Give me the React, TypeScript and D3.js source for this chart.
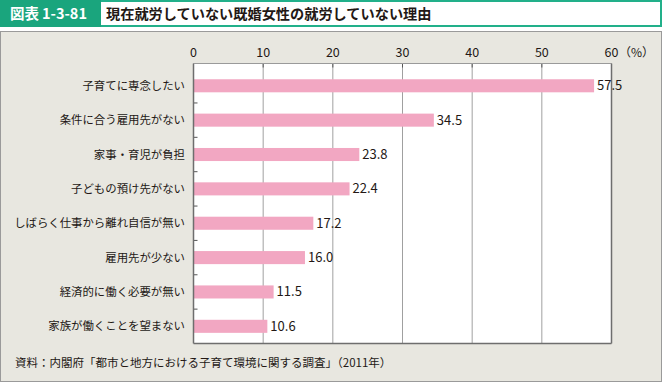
import React from "react";
import * as d3 from "d3";

const categories = [
  "子育てに専念したい",
  "条件に合う雇用先がない",
  "家事・育児が負担",
  "子どもの預け先がない",
  "しばらく仕事から離れ自信が無い",
  "雇用先が少ない",
  "経済的に働く必要が無い",
  "家族が働くことを望まない",
];
const values = [57.5, 34.5, 23.8, 22.4, 17.2, 16.0, 11.5, 10.6];
const xTicks = [0, 10, 20, 30, 40, 50, 60];

const W = 662;
const H = 383;
const FONT = "'Noto Sans CJK JP', 'Noto Sans', sans-serif";

export default function App() {
  const plotLeft = 193.5;
  const plotRight = 611.5;
  const plotTop = 63.5;
  const plotBottom = 343.5;
  const bandTop = 68.6;

  const x = d3.scaleLinear().domain([0, 60]).range([plotLeft, plotRight]);
  const y = d3
    .scaleBand<string>()
    .domain(categories)
    .range([bandTop, plotBottom])
    .paddingInner(0.62)
    .paddingOuter(0.31);

  const step = y.step();

  return (
    <svg
      width={W}
      height={H}
      style={{ position: "absolute", left: 0, top: 0, display: "block" }}
      fontFamily={FONT}
    >
      {/* title bar */}
      <rect x={1} y={1} width={660} height={25} fill="#ffffff" stroke="#22b08a" strokeWidth={2} />
      <rect x={0} y={0} width={101} height={27} fill="#1aa57d" />
      <text x={10} y={19} fill="#ffffff" fontSize={14.5} fontWeight="bold">
        図表<tspan dx={3}>1-3-81</tspan>
      </text>
      <text x={106} y={19} fill="#231815" fontSize={14.2} fontWeight="bold">
        現在就労していない既婚女性の就労していない理由
      </text>

      {/* panel */}
      <rect x={0.5} y={31.5} width={661} height={350} fill="#e8e7e0" stroke="#9a9a9a" strokeWidth={1} />

      {/* plot area */}
      <rect x={plotLeft} y={plotTop} width={plotRight - plotLeft} height={plotBottom - plotTop} fill="#ffffff" />

      {/* gridlines */}
      {xTicks.slice(1, -1).map((t) => (
        <line key={"g" + t} x1={x(t)} x2={x(t)} y1={plotTop} y2={plotBottom} stroke="#a0a0a0" strokeWidth={1} />
      ))}
      {/* top ticks */}
      {xTicks.map((t) => (
        <line key={"tt" + t} x1={x(t)} x2={x(t)} y1={plotTop} y2={plotTop + 4} stroke="#555" strokeWidth={1} />
      ))}

      {/* bars */}
      {categories.map((c, i) => (
        <rect
          key={c}
          x={x(0)}
          y={y(c)!}
          width={x(values[i]) - x(0)}
          height={y.bandwidth()}
          fill="#f2a7c2"
        />
      ))}

      {/* left ticks between categories */}
      {categories.slice(1).map((c) => (
        <line
          key={"lt" + c}
          x1={plotLeft}
          x2={plotLeft + 4}
          y1={y(c)! - (step - y.bandwidth()) / 2}
          y2={y(c)! - (step - y.bandwidth()) / 2}
          stroke="#555"
          strokeWidth={1}
        />
      ))}

      {/* frame */}
      <line x1={plotLeft} x2={plotLeft} y1={plotTop} y2={plotBottom} stroke="#6e6e6e" strokeWidth={1.5} />
      <line x1={plotRight} x2={plotRight} y1={plotTop} y2={plotBottom} stroke="#6e6e6e" strokeWidth={1.5} />
      <line x1={plotLeft} x2={plotRight} y1={plotBottom} y2={plotBottom} stroke="#6e6e6e" strokeWidth={1.5} />
      <line x1={plotLeft} x2={plotRight} y1={plotTop} y2={plotTop} stroke="#9a9a9a" strokeWidth={1} />

      {/* x tick labels */}
      {xTicks.map((t) => (
        <text key={"xl" + t} x={x(t)} y={57} fontSize={12.5} textAnchor="middle" fill="#231815">
          {t}
        </text>
      ))}
      <text x={619} y={57} fontSize={12} fill="#231815">
        （%）
      </text>

      {/* category labels */}
      {categories.map((c) => (
        <text
          key={"cl" + c}
          x={185}
          y={y(c)! + y.bandwidth() / 2 + 4}
          fontSize={11.4}
          textAnchor="end"
          fill="#231815"
        >
          {c}
        </text>
      ))}

      {/* value labels */}
      {categories.map((c, i) => (
        <text
          key={"vl" + c}
          x={x(values[i]) + 3}
          y={y(c)! + y.bandwidth() / 2 + 4.5}
          fontSize={13}
          fill="#231815"
        >
          {values[i].toFixed(1)}
        </text>
      ))}

      {/* footer */}
      <text x={15} y={367} fontSize={11.5} fill="#231815">
        資料：内閣府「都市と地方における子育て環境に関する調査」（2011年）
      </text>
    </svg>
  );
}
